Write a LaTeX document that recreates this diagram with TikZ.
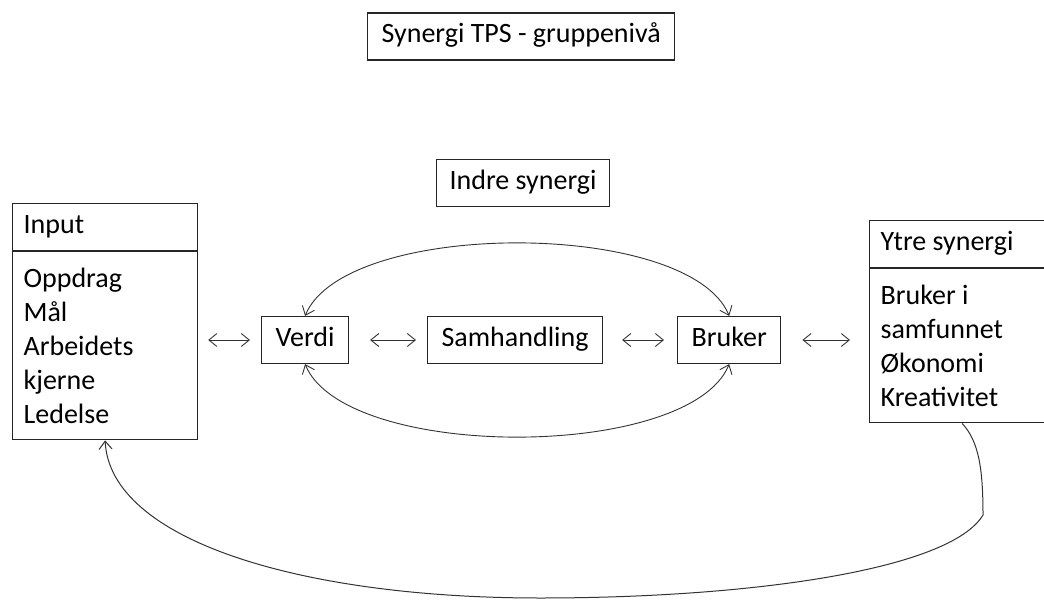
\documentclass[tikz,border=0pt]{standalone}
\usepackage{fontspec}
\setmainfont{Carlito}
\usepackage{tikz}
\usetikzlibrary{arrows.meta,positioning}
\tikzset{
  >={Straight Barb[length=8pt,width=13pt]},
  sbox/.style={draw=black!85, line width=1.2pt, inner xsep=14pt, inner ysep=0pt,
               minimum height=47pt, text height=20pt, text depth=7pt,
               font=\fontsize{28}{34}\selectfont},
  shead/.style={sbox, inner xsep=11pt, anchor=north west, text width=163pt,
                align=flush left},
  sbody/.style={sbox, inner xsep=11pt, text width=163pt, align=flush left,
                text height=, text depth=},
  slink/.style={<->, black!80, line width=0.9pt},
  sback/.style={->, black!80, line width=1pt},
}

\begin{document}
\begin{tikzpicture}[x=1pt,y=-1pt]
  \useasboundingbox (0,0) rectangle (1044,602);

  % --- overskrifter ---
  \node[sbox, anchor=west] (title) at (367,36.5) {Synergi TPS - gruppenivå};
  \node[sbox, anchor=west, inner xsep=13pt] (indre) at (436,183) {Indre synergi};

  % --- input ---
  \node[shead] (inputhead) at (12,203) {Input};
  \node[sbody, minimum height=188pt, below=0pt of inputhead] (inputbody)
    {Oppdrag\\Mål\\Arbeidets\\kjerne\\Ledelse};

  % --- indre kjede ---
  \node[sbox, anchor=west] (verdi) at (261,340) {Verdi};
  \node[sbox, anchor=west] (samhandling) at (427,340) {Samhandling};
  \node[sbox, anchor=west] (bruker) at (677,340) {Bruker};

  % --- ytre synergi ---
  \node[shead] (ytrehead) at (869,220) {Ytre synergi};
  \node[sbody, minimum height=154pt, below=0pt of ytrehead] (ytrebody)
    {Bruker i\\samfunnet\\Økonomi\\Kreativitet};

  % piler mellom boksene
  \draw[slink, shorten <=10pt, shorten >=11pt] (inputbody.east |- verdi.west) -- (verdi.west);
  \draw[slink, shorten <=21pt, shorten >=11pt] (verdi.east) -- (samhandling.west);
  \draw[slink, shorten <=19pt, shorten >=13pt] (samhandling.east) -- (bruker.west);
  \draw[slink, shorten <=21pt, shorten >=19pt] (bruker.east) -- (ytrebody.west |- bruker.east);

  % buer over og under
  \draw[slink] (verdi.north) .. controls +(40,-97) and +(-40,-97) .. (bruker.north);
  \draw[slink] (verdi.south) .. controls +(40,97) and +(-40,97) .. (bruker.south);

  % tilbake til input
  \coordinate (bend) at (983,515);
  \coordinate (low) at (540,598);
  \draw[sback] (ytrebody.south) .. controls +(17,18) and (983,470) .. (bend)
    .. controls (950,570) and (750,598) .. (low)
    .. controls (300,598) and (110,540) .. (inputbody.south);

\end{tikzpicture}
\end{document}
